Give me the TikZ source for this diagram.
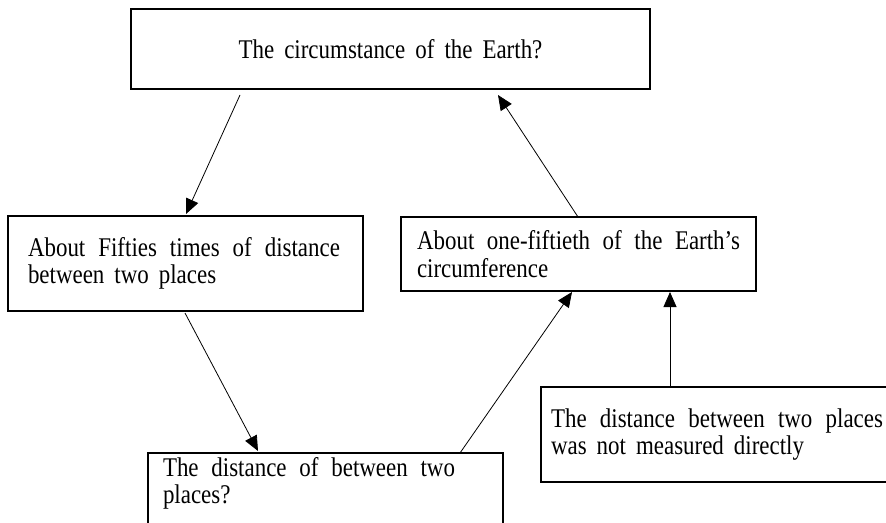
\documentclass[tikz,border=0pt]{standalone}
\usepackage{fontspec}
\setmainfont{Liberation Serif}[FakeStretch=0.85]
\usetikzlibrary{arrows.meta,calc}
\newcommand{\twolines}[4]{\vbox{\hbox to #1{\makebox[#2][s]{#3}\hfil}\hbox to #1{#4\hfil}}}
\begin{document}
\begin{tikzpicture}[x=1pt,y=-1pt,
  txtfont/.style={font={\fontsize{27}{27.5}\selectfont\spaceskip=10pt plus 6pt minus 3pt}},
  box/.style={draw, line width=1.2pt, anchor=north west, outer sep=0pt, inner sep=0pt, txtfont},
  arr/.style={-{Triangle[width=13pt,length=15pt]}, line width=0.8pt}]
\useasboundingbox (0,0) rectangle (886,522);
\fill[white] (0,0) rectangle (886,522);

\node[box, minimum width=519pt, minimum height=80pt] (top) at (131,9)
  {\raisebox{-4pt}{The circumstance of the Earth?}};

\node[box, minimum width=355pt, minimum height=95pt, inner xsep=20pt] (left) at (8,216)
  {\twolines{315pt}{312pt}{About Fifties times of distance}{between two places}};

\node[box, minimum width=355pt, minimum height=74pt, inner xsep=16pt] (mid) at (401,217)
  {\twolines{323pt}{323pt}{About one-fiftieth of the Earth's}{circumference}};

\node[box, minimum width=355pt, minimum height=95pt, inner xsep=10pt] (br) at (541,387)
  {\twolines{335pt}{332pt}{The distance between two places}{was not measured directly}};

\node[box, inner xsep=15pt, inner ysep=4pt] (bot) at (148,453)
  {\vtop{\hbox to 325pt{\makebox[292pt][s]{The distance of between two}\hfil}\hbox to 325pt{places?\hfil}\vskip 60pt}};

\draw[arr] ($(top.south west)+(109,6)$) -- ($(left.north west)+(178,-2)$);
\draw[arr] ($(mid.north west)+(177,0)$) -- ($(top.south west)+(367,6)$);
\draw[arr] ($(left.south west)+(177,2)$) -- ($(bot.north west)+(110,-2)$);
\draw[arr] ($(bot.north west)+(312,0)$) -- ($(mid.south west)+(171,1)$);
\draw[arr] ($(br.north west)+(129,0)$) -- ($(mid.south west)+(269,1)$);
\end{tikzpicture}
\end{document}
